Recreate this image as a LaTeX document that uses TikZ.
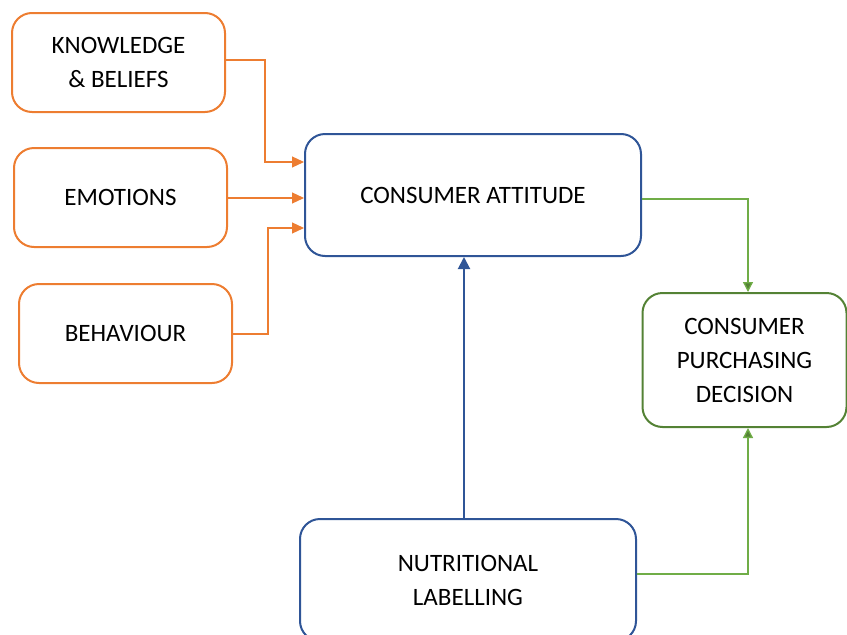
\documentclass[tikz,border=0pt]{standalone}
\usepackage{fontspec}
\setmainfont{Carlito}
\usetikzlibrary{arrows.meta}

\definecolor{orangeline}{HTML}{ED7D31}
\definecolor{blueline}{HTML}{2F5597}
\definecolor{greenline}{HTML}{548235}
\definecolor{greenarrow}{HTML}{70AD47}

\tikzset{
  box/.style={draw, rounded corners=20pt, line width=2pt, align=center,
    font=\fontsize{25}{34}\selectfont, inner sep=0pt},
  factorbox/.style={box, draw=orangeline, minimum width=213pt, minimum height=99pt},
  mainbox/.style={box, draw=blueline, minimum width=336pt, minimum height=122pt},
  orangearrow/.style={draw=orangeline, line width=1.2pt,
    -{Triangle[length=12pt,width=11pt,fill=orangeline]}},
  greenarrowline/.style={draw=greenarrow, line width=1.3pt,
    -{Triangle[length=10pt,width=10pt,fill=greenline]}}
}

\begin{document}
\begin{tikzpicture}[x=1pt,y=-1pt]
  \useasboundingbox (0,0) rectangle (847,635);

  \node[factorbox] (know) at (118.5,62.5) {KNOWLEDGE\\\& BELIEFS};
  \node[factorbox] (emo) at (120.5,197.5) {EMOTIONS};
  \node[factorbox] (behav) at (125.5,333.5) {BEHAVIOUR};

  \node[mainbox] (attitude) at (473,195) {CONSUMER ATTITUDE};
  \node[mainbox] (label) at (468,580) {NUTRITIONAL\\LABELLING};
  \node[box, draw=greenline, minimum width=204pt, minimum height=134pt]
    (decision) at (744.5,360) {CONSUMER\\PURCHASING\\DECISION};

  \draw[orangearrow] (know.east |- 0,60) -| (265,162) -- (attitude.west |- 0,162);
  \draw[orangearrow] (emo.east |- 0,198) -- (attitude.west |- 0,198);
  \draw[orangearrow] (behav.east |- 0,334) -| (268,228) -- (attitude.west |- 0,228);

  \draw[draw=blueline, line width=2pt,
    -{Triangle[length=12pt,width=12pt,fill=blueline]}]
    (label.north -| 464,0) -- (attitude.south -| 464,0);

  \draw[greenarrowline] (attitude.east |- 0,199) -| (decision.north -| 748,0);
  \draw[greenarrowline] (label.east |- 0,574) -| (decision.south -| 748,0);
\end{tikzpicture}
\end{document}
